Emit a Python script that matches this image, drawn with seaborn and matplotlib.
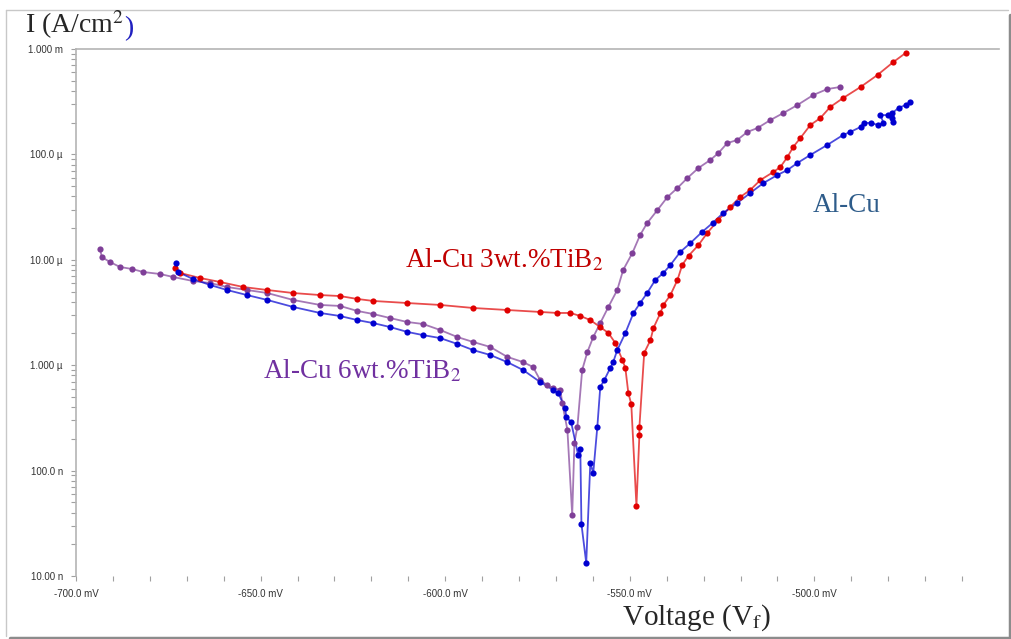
import numpy as np
import pandas as pd
import matplotlib
matplotlib.use("Agg")
import matplotlib.pyplot as plt
import matplotlib.ticker as mticker
from matplotlib.lines import Line2D
import seaborn as sns

# --- datos (V en mV, I en uA/cm2) ---
v_alcu = [-672.9, -672.4, -668.3, -663.7, -659.1, -653.7, -648.2, -641.2, -633.9, -628.5,
          -623.8, -619.5, -614.9, -610.3, -606.0, -601.4, -596.7, -592.4, -587.8, -583.2,
          -578.9, -574.3, -570.7, -569.4, -567.5, -567.2, -565.9, -564.0, -563.4, -563.1,
          -561.8, -560.7, -559.9, -558.8, -558.0, -556.9, -555.3, -554.5, -553.4, -551.2,
          -549.0, -547.2, -545.3, -543.1, -540.9, -539.0, -536.3, -533.6, -530.4, -527.6,
          -524.7, -520.9, -517.4, -513.8, -510.0, -507.3, -504.6, -501.1, -496.5, -492.2,
          -490.3, -487.5, -486.7, -484.8, -482.7, -481.3, -482.1, -480.2, -478.9, -478.6,
          -478.9, -477.2, -475.3, -474.0]
i_alcu = [9.32, 7.66, 6.57, 5.77, 5.17, 4.63, 4.16, 3.57, 3.13, 2.93,
          2.68, 2.51, 2.30, 2.07, 1.93, 1.81, 1.59, 1.39, 1.25, 1.07,
          0.90, 0.693, 0.582, 0.545, 0.392, 0.322, 0.289, 0.141, 0.160, 0.0311,
          0.0133, 0.118, 0.0949, 0.259, 0.621, 0.724, 0.940, 1.07, 1.39, 2.02,
          3.13, 3.89, 4.84, 6.43, 7.50, 8.93, 11.9, 14.4, 18.4, 22.3,
          27.8, 34.6, 43.0, 53.5, 63.8, 71.1, 82.9, 98.7, 123, 153,
          163, 182, 199, 199, 190, 199, 236, 236, 221, 203,
          247, 276, 294, 314]

v_3tib2 = [-673.2, -671.8, -666.4, -661.0, -654.7, -648.2, -641.2, -633.9, -628.5, -623.8,
           -619.5, -610.3, -601.4, -592.4, -583.2, -574.3, -569.6, -566.1, -563.4, -560.7,
           -558.0, -555.8, -553.9, -552.0, -551.2, -550.4, -549.6, -548.2, -547.4, -547.4,
           -546.1, -544.4, -543.6, -541.7, -540.9, -539.0, -537.1, -535.8, -534.1, -531.4,
           -529.0, -526.0, -522.8, -520.1, -517.4, -514.6, -511.1, -509.2, -507.3, -505.7,
           -503.8, -501.1, -498.4, -495.7, -492.2, -487.5, -482.9, -478.6, -475.3]
i_3tib2 = [8.36, 7.50, 6.72, 6.16, 5.52, 5.17, 4.84, 4.63, 4.53, 4.25,
           4.07, 3.89, 3.73, 3.49, 3.34, 3.20, 3.13, 3.13, 2.93, 2.68,
           2.30, 2.02, 1.62, 1.12, 0.940, 0.545, 0.428, 0.0462, 0.218, 0.259,
           1.31, 1.73, 2.25, 3.13, 3.73, 4.63, 6.43, 8.93, 10.9, 13.8,
           18.0, 23.9, 31.7, 39.4, 45.9, 57.2, 68.1, 76.0, 94.5, 118,
           143, 190, 221, 282, 343, 436, 567, 753, 916]

v_6tib2 = [-693.5, -693.0, -690.8, -688.1, -684.8, -681.8, -677.2, -673.7, -668.3, -663.7,
           -659.1, -653.7, -648.2, -641.2, -633.9, -628.5, -623.8, -619.5, -614.9, -610.3,
           -606.0, -601.4, -596.7, -592.4, -587.8, -583.2, -578.9, -576.2, -574.3, -572.4,
           -570.7, -568.8, -568.3, -566.9, -565.6, -565.0, -564.2, -562.9, -561.5, -559.9,
           -558.0, -555.8, -553.4, -551.8, -549.3, -547.2, -545.3, -542.5, -539.8, -537.1,
           -534.4, -531.4, -528.2, -526.0, -523.6, -520.9, -518.2, -515.4, -511.9, -508.4,
           -504.6, -500.3, -496.5, -493.0]
i_6tib2 = [12.7, 10.6, 9.53, 8.55, 8.18, 7.66, 7.33, 6.87, 6.29, 6.02,
           5.52, 5.17, 4.84, 4.16, 3.73, 3.65, 3.27, 3.06, 2.80, 2.57,
           2.46, 2.16, 1.85, 1.66, 1.49, 1.20, 1.07, 0.961, 0.724, 0.649,
           0.608, 0.582, 0.438, 0.243, 0.0379, 0.183, 0.259, 0.90, 1.33, 1.85,
           2.51, 3.57, 5.17, 8.00, 11.6, 17.2, 22.3, 29.7, 39.4, 48.0,
           59.7, 74.3, 88.5, 103, 128, 137, 163, 178, 212, 247,
           294, 366, 417, 436]

y_ticks = [1e-8, 1e-7, 1e-6, 1e-5, 1e-4, 1e-3]
y_tick_labels = ["10.00 n", "100.0 n", "1.000 \u00b5", "10.00 \u00b5", "100.0 \u00b5", "1.000 m"]
x_ticks = [-700, -650, -600, -550, -500]
x_tick_labels = ["-700.0 mV", "-650.0 mV", "-600.0 mV", "-550.0 mV", "-500.0 mV"]

# (nombre, V, I, color linea/puntos, color texto, posicion etiqueta)
series = [
    ("Al-Cu 6wt.%TiB$_2$", v_6tib2, i_6tib2, "#7f3f98", "#7030a0", (-649.3, 7.56e-7)),
    ("Al-Cu 3wt.%TiB$_2$", v_3tib2, i_3tib2, "#e00000", "#c00000", (-610.8, 8.55e-6)),
    ("Al-Cu", v_alcu, i_alcu, "#0000d0", "#2e5c8a", (-500.5, 2.84e-5)),
]

sns.set_theme(style="white")
plt.rcParams["font.family"] = ["Liberation Serif", "DejaVu Serif"]
plt.rcParams["mathtext.fontset"] = "stix"

fig = plt.figure(figsize=(10.12, 6.39), dpi=100)
ax = fig.add_axes([76 / 1012, 63 / 639, 923 / 1012, 527 / 639])

for name, v, i, col, tcol, pos in series:
    df = pd.DataFrame({"V": v, "I": np.array(i) * 1e-6})
    sns.lineplot(data=df, x="V", y="I", sort=False, estimator=None, color=col,
                 lw=1.3, alpha=0.7, ax=ax)
    sns.scatterplot(data=df, x="V", y="I", color=col, s=20, linewidth=0, ax=ax, zorder=3)
    ax.text(pos[0], pos[1], name, color=tcol, fontsize=19.5, ha="left", va="baseline")

ax.set_yscale("log")
ax.set_xlim(-700, -450)
ax.set_ylim(1e-8, 1e-3)

ax.set_yticks(y_ticks)
ax.set_yticklabels(y_tick_labels)
ax.yaxis.set_minor_locator(mticker.LogLocator(base=10, subs=np.arange(2, 10), numticks=20))
ax.yaxis.set_minor_formatter(mticker.NullFormatter())
ax.set_xticks(x_ticks)
ax.set_xticklabels(x_tick_labels)
ax.set_xticks(np.arange(-690, -455, 10), minor=True)

tick_font = {"family": ["Liberation Sans Narrow", "Liberation Sans"], "size": 7}
for lab in ax.get_xticklabels() + ax.get_yticklabels():
    lab.set_fontfamily(tick_font["family"])
    lab.set_fontsize(tick_font["size"])
    lab.set_color("#333333")

ax.tick_params(axis="both", which="both", direction="out", length=3.5, width=0.8,
               color="#a0a0a0", left=True, bottom=True)
ax.tick_params(axis="y", which="major", pad=6)
ax.tick_params(axis="x", which="major", pad=6)

for side in ["right", "bottom"]:
    ax.spines[side].set_visible(False)
for side in ["top", "left"]:
    ax.spines[side].set_color("#b4b4b4")
    ax.spines[side].set_linewidth(1.2)

ax.set_xlabel("")
ax.set_ylabel("")

# titulos de ejes como en el original
ylab = fig.text(25 / 1012, 1 - 33 / 639, "I (A/cm$^2$", fontsize=20, ha="left", va="baseline")
ax.annotate(")", xy=(1, 0), xycoords=ylab, xytext=(0, 0), textcoords="offset points",
            fontsize=20, color="#2020c0", ha="left", va="bottom")
fig.text(622 / 1012, 1 - 625 / 639, "Voltage (V$_{\\mathrm{f}}$)", fontsize=21,
         ha="left", va="baseline")

# marco con sombra
W, H = 1012, 639
def fl(xs, ys, c, lw):
    fig.add_artist(Line2D([x / W for x in xs], [1 - y / H for y in ys],
                          transform=fig.transFigure, color=c, lw=lw))

fl([6, 1008], [9.5, 9.5], "#c8c8c8", 1.0)
fl([6, 6], [9.5, 636], "#c8c8c8", 1.0)
fl([1010, 1010], [15, 638], "#8c8c8c", 2.5)
fl([10, 1011], [637.5, 637.5], "#8c8c8c", 2.5)

fig.savefig("out.png", dpi=100)
